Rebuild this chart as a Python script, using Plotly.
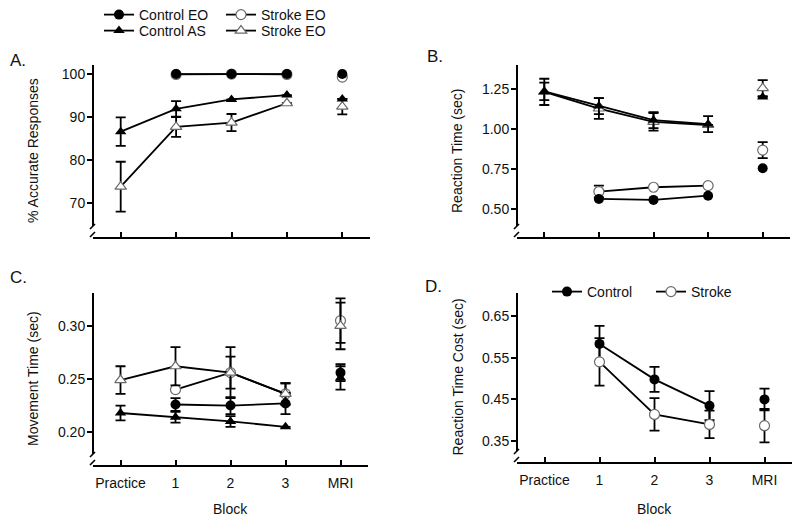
import plotly.graph_objects as go

# ---------------- data ----------------
categories = ["Practice", "1", "2", "3", "MRI"]

# A. % accurate responses
a_control_eo = [None, 100.0, 100.0, 100.0, 100.0]
a_stroke_eo_c = [None, 99.9, 100.0, 99.9, 99.3]
a_control_as = [86.6, 91.9, 94.1, 95.1, 94.2]
a_control_as_err = [3.3, 1.8, None, None, None]
a_stroke_eo_t = [73.8, 87.7, 88.7, 93.2, 92.4]
a_stroke_eo_t_err = [5.8, 2.3, 2.0, None, 1.8]

# B. reaction time (sec)
b_control_eo = [None, 0.563, 0.557, 0.583, 0.755]
b_stroke_eo_c = [None, 0.609, 0.636, 0.646, 0.868]
b_stroke_eo_c_err = [None, 0.037, None, None, 0.05]
b_control_as = [1.235, 1.143, 1.055, 1.03, 1.20]
b_control_as_err = [0.055, 0.05, 0.05, 0.05, None]
b_stroke_eo_t = [1.232, 1.128, 1.045, 1.025, 1.255]
b_stroke_eo_t_err = [0.082, 0.065, 0.055, None, 0.05]

# C. movement time (sec)
c_control_eo = [None, 0.226, 0.225, 0.227, 0.256]
c_control_eo_err = [None, 0.006, 0.008, 0.010, 0.008]
c_stroke_eo_c = [None, 0.240, 0.256, 0.236, 0.305]
c_stroke_eo_c_err = [None, None, 0.015, 0.010, 0.021]
c_control_as = [0.218, 0.214, 0.210, 0.205, 0.251]
c_control_as_err = [0.007, 0.005, 0.005, None, 0.011]
c_stroke_eo_t = [0.249, 0.262, 0.256, 0.236, 0.300]
c_stroke_eo_t_err = [0.013, 0.018, 0.024, 0.010, 0.022]

# D. reaction time cost (sec)
d_control = [None, 0.583, 0.498, 0.435, 0.450]
d_control_err = [None, 0.043, 0.030, 0.035, 0.026]
d_stroke = [None, 0.540, 0.414, 0.390, 0.387]
d_stroke_err = [None, 0.057, 0.039, 0.033, 0.040]

y_titles = ["% Accurate Responses", "Reaction Time (sec)", "Movement Time (sec)", "Reaction Time Cost (sec)"]
panel_labels = ["A.", "B.", "C.", "D."]

# ---------------- layout helpers ----------------
OFF = 8                      # page body margin of the browser
W, H = 800 - OFF, 523 - OFF  # figure size so that it fills the 800x523 window
FONT = "Liberation Sans, Arial, Helvetica, sans-serif"
x_pos = list(range(len(categories)))

def px(x):
    return (x - OFF) / W

def py(y):
    return 1 - (y - OFF) / H

# pixel boxes in window coordinates (left, right, top, bottom)
boxes = {
    1: (93, 370, 65, 237),
    2: (517, 790, 65, 237),
    3: (93, 368, 293, 465),
    4: (517, 792, 293, 462),
}
yranges = {1: [62.1, 102.1], 2: [0.325, 1.40], 3: [0.169, 0.331], 4: [0.300, 0.705]}
ytickvals = {1: [70, 80, 90, 100], 2: [0.5, 0.75, 1.0, 1.25], 3: [0.20, 0.25, 0.30], 4: [0.35, 0.45, 0.55, 0.65]}
yticktext = {1: ["70", "80", "90", "100"], 2: ["0.50", "0.75", "1.00", "1.25"],
             3: ["0.20", "0.25", "0.30"], 4: ["0.35", "0.45", "0.55", "0.65"]}

fig = go.Figure()

def style(kind):
    if kind == "fc":
        return dict(symbol="circle", size=10, color="black", line=dict(width=0))
    if kind == "oc":
        return dict(symbol="circle", size=10, color="white", line=dict(color="#6a6a6a", width=1.2))
    if kind == "ft":
        return dict(symbol="triangle-up", size=10, color="black", line=dict(width=0))
    return dict(symbol="triangle-up", size=10, color="white", line=dict(color="#6a6a6a", width=1.2))

def add_series(n, y, err, kind, name=None, legend=None, rank=1000):
    ax = "" if n == 1 else str(n)
    eb = None
    if err is not None:
        eb = dict(type="data", array=err[:4], visible=True, color="black", thickness=1.8, width=5)
    fig.add_trace(go.Scatter(
        x=x_pos[:4], y=y[:4], mode="lines+markers",
        line=dict(color="black", width=1.8), marker=style(kind),
        error_y=eb, xaxis="x" + ax, yaxis="y" + ax,
        name=name, showlegend=name is not None, legend=legend, legendrank=rank,
        cliponaxis=False,
    ))
    eb2 = None
    if err is not None:
        eb2 = dict(type="data", array=err[4:], visible=True, color="black", thickness=1.8, width=5)
    fig.add_trace(go.Scatter(
        x=x_pos[4:], y=y[4:], mode="markers", marker=style(kind),
        error_y=eb2, xaxis="x" + ax, yaxis="y" + ax, showlegend=False,
        cliponaxis=False,
    ))

# A
add_series(1, a_stroke_eo_c, None, "oc", "Stroke EO", "legend", 2)
add_series(1, a_control_eo, None, "fc", "Control EO", "legend", 1)
add_series(1, a_stroke_eo_t, a_stroke_eo_t_err, "ot", "Stroke EO", "legend2", 2)
add_series(1, a_control_as, a_control_as_err, "ft", "Control AS", "legend2", 1)
# B
add_series(2, b_stroke_eo_c, b_stroke_eo_c_err, "oc")
add_series(2, b_control_eo, None, "fc")
add_series(2, b_stroke_eo_t, b_stroke_eo_t_err, "ot")
add_series(2, b_control_as, b_control_as_err, "ft")
# C
add_series(3, c_stroke_eo_c, c_stroke_eo_c_err, "oc")
add_series(3, c_control_eo, c_control_eo_err, "fc")
add_series(3, c_stroke_eo_t, c_stroke_eo_t_err, "ot")
add_series(3, c_control_as, c_control_as_err, "ft")
# D
add_series(4, d_control, d_control_err, "fc", "Control", "legend3", 1)
add_series(4, d_stroke, d_stroke_err, "oc", "Stroke", "legend3", 2)

layout = dict(
    width=W, height=H, margin=dict(l=0, r=0, t=0, b=0, autoexpand=False),
    paper_bgcolor="white", plot_bgcolor="white",
    font=dict(family=FONT, size=14, color="#111"),
    shapes=[], annotations=[],
)

for n, (l, r, t, b) in boxes.items():
    ax = "" if n == 1 else str(n)
    show_x_labels = n in (3, 4)
    layout["xaxis" + ax] = dict(
        domain=[px(l), min(px(r), 1.0)], anchor="y" + ax, range=[-0.5, 4.5],
        tickvals=x_pos, ticktext=categories if show_x_labels else [""] * 5,
        showticklabels=show_x_labels,
        ticks="inside", ticklen=5, tickwidth=1.8, tickcolor="black",
        showline=True, linewidth=2, linecolor="black", showgrid=False, zeroline=False,
        tickfont=dict(size=14, color="#111"), automargin=False, ticklabelstandoff=4,
    )
    layout["yaxis" + ax] = dict(
        domain=[py(b), py(t)], anchor="x" + ax, range=yranges[n],
        tickvals=ytickvals[n], ticktext=yticktext[n],
        ticks="outside", ticklen=5, tickwidth=1.8, tickcolor="black",
        showline=False, showgrid=False, zeroline=False,
        tickfont=dict(size=14, color="#111"), automargin=False, ticklabelstandoff=-1,
    )
    # y axis line with break marks
    layout["shapes"].append(dict(type="line", xref="paper", yref="paper",
                                 x0=px(l), x1=px(l), y0=py(b - 11), y1=py(t),
                                 line=dict(color="black", width=2)))
    for off in (0, 8):
        layout["shapes"].append(dict(type="line", xref="paper", yref="paper",
                                     x0=px(l - 3), x1=px(l + 2), y0=py(b - off), y1=py(b - off - 5),
                                     line=dict(color="black", width=1.6)))
    # y title
    layout["annotations"].append(dict(
        text=y_titles[n - 1], textangle=-90, xref="paper", yref="paper",
        x=px(l - 60), y=py((t + b) / 2), showarrow=False,
        font=dict(size=14, color="#111"), xanchor="center", yanchor="middle"))
    if show_x_labels:
        layout["annotations"].append(dict(
            text="Block", xref="paper", yref="paper", x=px((l + r) / 2), y=py(509),
            showarrow=False, font=dict(size=14, color="#111"), xanchor="center", yanchor="middle"))

label_pos = {1: (8, 60), 2: (425, 57), 3: (8, 277), 4: (423, 286)}
for n, (x, y) in label_pos.items():
    layout["annotations"].append(dict(
        text=panel_labels[n - 1], xref="paper", yref="paper", x=px(x), y=py(y),
        showarrow=False, font=dict(size=17, color="#111"), xanchor="left", yanchor="middle"))

leg_common = dict(orientation="h", bgcolor="rgba(0,0,0,0)", borderwidth=0,
                  font=dict(size=14, color="#111"), xanchor="left", yanchor="middle",
                  entrywidthmode="pixels", traceorder="normal")
layout["legend"] = dict(leg_common, x=px(99), y=py(15), entrywidth=77)
layout["legend2"] = dict(leg_common, x=px(99), y=py(31), entrywidth=77)
layout["legend3"] = dict(leg_common, x=px(547), y=py(292), entrywidth=59)

fig.update_layout(**layout)
fig.write_html("out.html")
